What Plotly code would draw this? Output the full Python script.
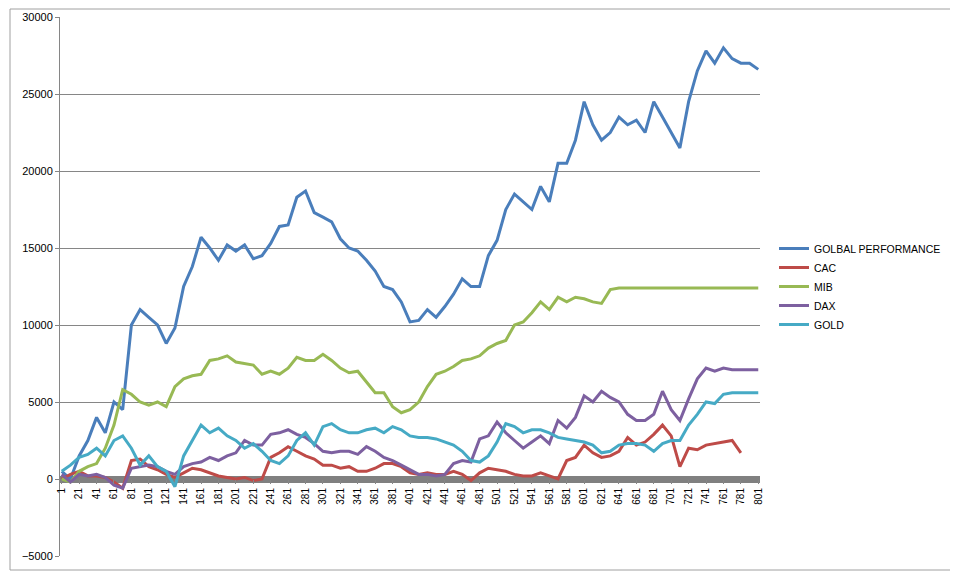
import plotly.graph_objects as go

# sampled every 10 periods: 1, 11, ..., 801
periods = list(range(1, 802, 10))

global_perf = [500, 0, 1500, 2500, 4000, 3000, 5000, 4500, 10000, 11000,
               10500, 10000, 8800, 9800, 12500, 13800, 15700, 15000, 14200, 15200,
               14800, 15200, 14300, 14500, 15300, 16400, 16500, 18300, 18700, 17300,
               17000, 16700, 15600, 15000, 14800, 14200, 13500, 12500, 12300, 11500,
               10200, 10300, 11000, 10500, 11200, 12000, 13000, 12500, 12500, 14500,
               15500, 17500, 18500, 18000, 17500, 19000, 18000, 20500, 20500, 22000,
               24500, 23000, 22000, 22500, 23500, 23000, 23300, 22500, 24500, 23500,
               22500, 21500, 24500, 26500, 27800, 27000, 28000, 27300, 27000, 27000,
               26600]

cac = [0, 300, 500, 200, 200, 100, -200, -600, 1200, 1300,
       800, 600, 300, 100, 400, 700, 600, 400, 200, 100,
       0, 100, -100, 0, 1400, 1700, 2100, 1800, 1500, 1300,
       900, 900, 700, 800, 500, 500, 700, 1000, 1000, 800,
       400, 300, 400, 300, 300, 500, 300, -100, 400, 700,
       600, 500, 300, 200, 200, 400, 200, 0, 1200, 1400,
       2200, 1700, 1400, 1500, 1800, 2700, 2200, 2400, 2900, 3500,
       2800, 800, 2000, 1900, 2200, 2300, 2400, 2500, 1700, None,
       None]

mib = [0, -200, 500, 800, 1000, 2000, 3500, 5800, 5500, 5000,
       4800, 5000, 4700, 6000, 6500, 6700, 6800, 7700, 7800, 8000,
       7600, 7500, 7400, 6800, 7000, 6800, 7200, 7900, 7700, 7700,
       8100, 7700, 7200, 6900, 7000, 6300, 5600, 5600, 4700, 4300,
       4500, 5000, 6000, 6800, 7000, 7300, 7700, 7800, 8000, 8500,
       8800, 9000, 10000, 10200, 10800, 11500, 11000, 11800, 11500, 11800,
       11700, 11500, 11400, 12300, 12400, 12400, 12400, 12400, 12400, 12400,
       12400, 12400, 12400, 12400, 12400, 12400, 12400, 12400, 12400, 12400,
       12400]

dax = [300, -200, 300, 200, 300, 100, -400, -600, 700, 800,
       900, 800, 500, 300, 800, 1000, 1100, 1400, 1200, 1500,
       1700, 2500, 2200, 2200, 2900, 3000, 3200, 2900, 2700, 2300,
       1800, 1700, 1800, 1800, 1600, 2100, 1800, 1400, 1200, 900,
       600, 300, 300, 200, 300, 1000, 1200, 1100, 2600, 2800,
       3700, 3000, 2500, 2000, 2400, 2800, 2300, 3800, 3300, 4000,
       5400, 5000, 5700, 5300, 5000, 4200, 3800, 3800, 4200, 5700,
       4500, 3800, 5200, 6500, 7200, 7000, 7200, 7100, 7100, 7100,
       7100]

gold = [500, 900, 1400, 1600, 2000, 1500, 2500, 2800, 2000, 900,
        1500, 800, 500, -500, 1500, 2500, 3500, 3000, 3300, 2800,
        2500, 2000, 2300, 1800, 1200, 1000, 1500, 2500, 3000, 2200,
        3400, 3600, 3200, 3000, 3000, 3200, 3300, 3000, 3400, 3200,
        2800, 2700, 2700, 2600, 2400, 2200, 1800, 1200, 1100, 1500,
        2400, 3600, 3400, 3000, 3200, 3200, 3000, 2700, 2600, 2500,
        2400, 2200, 1700, 1800, 2200, 2300, 2300, 2200, 1800, 2300,
        2500, 2500, 3500, 4200, 5000, 4900, 5500, 5600, 5600, 5600,
        5600]

series = [("GOLBAL PERFORMANCE", global_perf, "#4A7EBB"),
          ("CAC", cac, "#BE4B48"),
          ("MIB", mib, "#98B954"),
          ("DAX", dax, "#7D60A0"),
          ("GOLD", gold, "#46AAC5")]

fig = go.Figure()
for name, vals, color in series:
    fig.add_trace(go.Scatter(x=periods, y=vals, name=name, mode="lines",
                             line=dict(color=color, width=3)))

fig.update_layout(
    width=958, height=572,
    margin=dict(l=52, r=206, t=9, b=24),
    paper_bgcolor="white", plot_bgcolor="white",
    font=dict(family="Liberation Sans, Arial", size=11, color="black"),
    legend=dict(x=1.02, y=0.50, yanchor="middle", font=dict(size=10.5),
                tracegroupgap=8, itemwidth=30),
    showlegend=True,
)
fig.update_yaxes(range=[-5000, 30000], dtick=5000, tickformat="d",
                 automargin=False,
                 showgrid=True, gridcolor="#868686", gridwidth=1, showline=True,
                 linecolor="#868686", ticks="outside", ticklen=4,
                 tickcolor="#868686", zeroline=True, zerolinecolor="#808080",
                 zerolinewidth=7)
fig.update_xaxes(range=[-1, 803], tickvals=list(range(1, 802, 20)),
                 automargin=False,
                 tickangle=-90, tickfont=dict(size=10), showgrid=False,
                 anchor="free", position=77 / 539, showline=False,
                 ticks="outside", ticklen=4, tickcolor="#868686", zeroline=False)
fig.add_shape(type="rect", xref="paper", yref="paper",
              x0=-50 / 700, x1=(700 + 195) / 700, y0=-14 / 539, y1=1 + 8 / 539,
              line=dict(color="#A0A0A0", width=1), layer="below")

fig.write_html("out.html")
